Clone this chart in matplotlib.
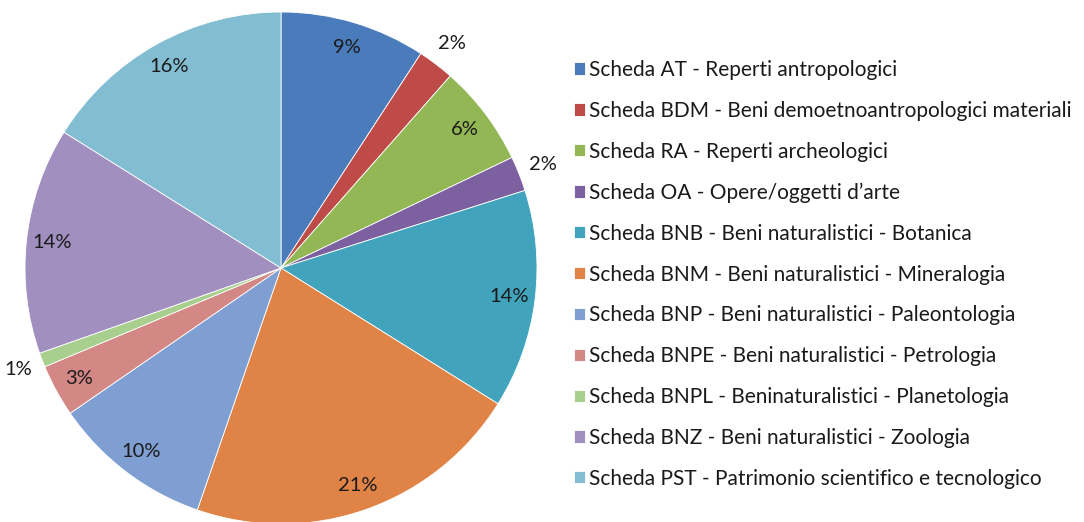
import matplotlib.pyplot as plt

plt.rcParams['font.family'] = ['Lato', 'DejaVu Sans']

categories = [
    'Scheda AT - Reperti antropologici',
    'Scheda BDM - Beni demoetnoantropologici materiali',
    'Scheda RA - Reperti archeologici',
    "Scheda OA - Opere/oggetti d\u2019arte",
    'Scheda BNB - Beni naturalistici - Botanica',
    'Scheda BNM - Beni naturalistici - Mineralogia',
    'Scheda BNP - Beni naturalistici - Paleontologia',
    'Scheda BNPE - Beni naturalistici - Petrologia',
    'Scheda BNPL - Beninaturalistici - Planetologia',
    'Scheda BNZ - Beni naturalistici - Zoologia',
    'Scheda PST - Patrimonio scientifico e tecnologico',
]
shares = [9.2, 2.3, 6.4, 2.2, 13.8, 21.4, 10.1, 3.3, 0.9, 14.3, 16.1]
colors = ['#4A7BBA', '#BE4B48', '#93B755', '#7D60A0', '#42A3BD', '#DF8446',
          '#7F9FD3', '#D38886', '#A8CF8D', '#A08FBF', '#82BDD2']

fig = plt.figure(figsize=(10.84, 5.22), dpi=100)
ax = fig.add_axes([25 / 1084, -2 / 522, 512 / 1084, 512 / 522])

wedges, texts, autotexts = ax.pie(
    shares, colors=colors, startangle=90, counterclock=False,
    autopct='%.0f%%', pctdistance=0.9,
    wedgeprops=dict(edgecolor='white', linewidth=0.6),
    textprops=dict(fontsize=14.5, color='#1a1a1a'))

# small slices get their label just outside the rim
for val, t in zip(shares, autotexts):
    if val < 3:
        x, y = t.get_position()
        t.set_position((x / 0.9 * 1.1, y / 0.9 * 1.1))

ax.set_xlim(-1, 1)
ax.set_ylim(-1, 1)
ax.set_aspect('equal')

fig.legend(wedges, categories, loc='upper left',
           bbox_to_anchor=(574 / 1084, 1 - 60 / 522),
           frameon=False, fontsize=15, labelspacing=1.0,
           borderpad=0, borderaxespad=0,
           handlelength=0.53, handleheight=0.53, handletextpad=0.2,
           labelcolor='#1a1a1a')

fig.savefig('out.png', dpi=100)
